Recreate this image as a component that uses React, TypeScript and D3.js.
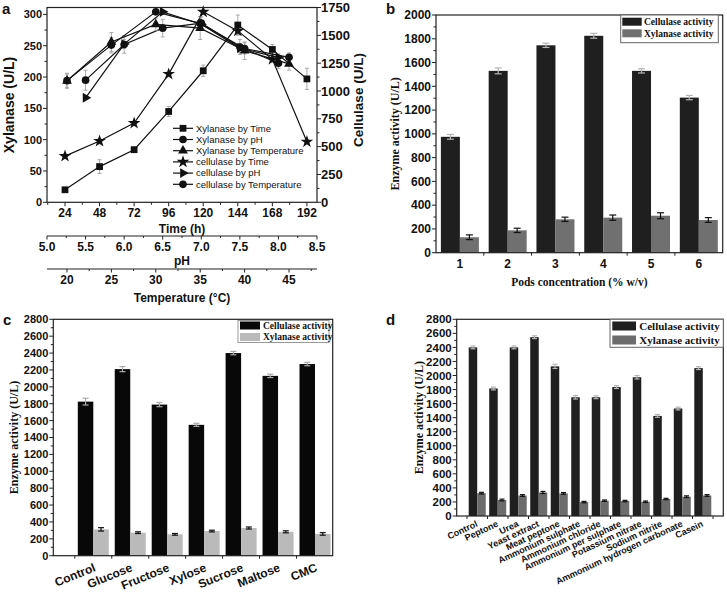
import React from "react";
import * as d3 from "d3";

const SANS = "'Liberation Sans', Arial, Helvetica, sans-serif";
const SERIF = "'Liberation Serif', 'Times New Roman', Times, serif";

// ---------- Panel a data ----------
const timeHours = [24, 48, 72, 96, 120, 144, 168, 192];
const xylanaseByTime = [20, 57, 84, 145, 210, 283, 244, 197];
const xylanaseByTimeErr = [3, 11, 4, 8, 9, 16, 8, 17];
const cellulaseByTime = [415, 550, 711, 1152, 1711, 1540, 1285, 544];
const cellulaseByTimeErr = [20, 25, 18, 25, 20, 35, 30, 20];
const pHValues = [5.5, 6.0, 6.5, 7.0, 7.5, 8.0];
const xylanaseByPH = [195, 252, 278, 286, 248, 222];
const xylanaseByPHErr = [16, 14, 14, 10, 12, 8];
const cellulaseByPH = [939, 1421, 1711, 1600, 1385, 1302];
const cellulaseByPHErr = [0, 40, 0, 30, 40, 30];
const temperatureValues = [20, 25, 30, 35, 40, 45];
const xylanaseByTemp = [194, 256, 284, 278, 242, 221];
const xylanaseByTempErr = [12, 15, 10, 18, 14, 10];
const cellulaseByTemp = [1093, 1412, 1711, 1607, 1382, 1302];
const cellulaseByTempErr = [60, 70, 0, 60, 50, 40];

const timeTicks = [24, 48, 72, 96, 120, 144, 168, 192];
const pHTicks = [5.0, 5.5, 6.0, 6.5, 7.0, 7.5, 8.0, 8.5];
const tempTicks = [20, 25, 30, 35, 40, 45];
const xylTicks = [0, 50, 100, 150, 200, 250, 300];
const celTicks = [0, 250, 500, 750, 1000, 1250, 1500, 1750];

// ---------- Panel b data ----------
const podsConc = ["1", "2", "3", "4", "5", "6"];
const podsCellulase = [975, 1530, 1745, 1825, 1530, 1305];
const podsCellulaseErr = [20, 25, 18, 20, 18, 18];
const podsXylanase = [130, 188, 281, 295, 311, 275];
const podsXylanaseErr = [20, 18, 18, 22, 25, 20];

// ---------- Panel c data ----------
const carbonSources = ["Control", "Glucose", "Fructose", "Xylose", "Sucrose", "Maltose", "CMC"];
const carbonCellulase = [1825, 2210, 1790, 1550, 2400, 2130, 2270];
const carbonCellulaseErr = [40, 30, 25, 18, 20, 20, 20];
const carbonXylanase = [312, 273, 253, 292, 328, 283, 258];
const carbonXylanaseErr = [20, 10, 10, 10, 12, 12, 15];

// ---------- Panel d data ----------
const nitrogenSources = [
  "Control", "Peptone", "Urea", "Yeast extract", "Meat peptone", "Ammonium sulphate",
  "Ammonium chloride", "Ammonium per sulphate", "Potassium nitrate", "Sodium nitrite",
  "Ammonium hydrogen carbonate", "Casein",
];
const nitrogenCellulase = [2400, 1815, 2400, 2545, 2130, 1690, 1690, 1835, 1975, 1425, 1530, 2105];
const nitrogenCellulaseErr = [20, 20, 20, 20, 30, 25, 20, 20, 25, 20, 20, 20];
const nitrogenXylanase = [325, 228, 292, 335, 322, 198, 218, 213, 203, 242, 275, 292];
const nitrogenXylanaseErr = [12, 12, 12, 15, 12, 10, 10, 10, 10, 10, 12, 12];

function ErrBar({ x, y0, y1, cap, color, w = 1 }: any) {
  return (
    <g stroke={color} strokeWidth={w}>
      <line x1={x} x2={x} y1={y0} y2={y1} />
      <line x1={x - cap} x2={x + cap} y1={y0} y2={y0} />
      <line x1={x - cap} x2={x + cap} y1={y1} y2={y1} />
    </g>
  );
}

function BarPanel(p: any) {
  const y = d3.scaleLinear().domain([0, p.yMax]).range([p.B, p.T]);
  const majors = d3.range(0, p.yMax + 1, 200);
  const minors = d3.range(100, p.yMax, 200);
  const step = p.stepW;
  const bounds: number[] = p.cats.map((c: string) => (p.x(c) as number) - step / 2);
  bounds.push((p.x(p.cats[p.cats.length - 1]) as number) + step / 2);
  const lg = p.legend;
  return (
    <g>
      {p.cats.map((c: string, i: number) => {
        const cx = p.x(c) as number;
        const cyc = y(p.cel[i]);
        const cyx = y(p.xyl[i]);
        return (
          <g key={c}>
            <rect x={cx - p.barW} y={cyc} width={p.barW} height={p.B - cyc} fill={p.celColor} />
            <rect x={cx} y={cyx} width={p.barW} height={p.B - cyx} fill={p.xylColor} />
            <ErrBar x={cx - p.barW / 2} y0={y(p.cel[i] + p.celErr[i])} y1={y(p.cel[i] - p.celErr[i])} cap={p.cap} color={p.celErrColor} w={1.2} />
            <ErrBar x={cx + p.barW / 2} y0={y(p.xyl[i] + p.xylErr[i])} y1={y(p.xyl[i] - p.xylErr[i])} cap={p.cap} color={p.xylErrColor} w={1.2} />
          </g>
        );
      })}
      <rect x={p.L} y={p.T} width={p.R - p.L} height={p.B - p.T} fill="none" stroke="#222" strokeWidth={1.2} />
      {majors.map((v: number) => (
        <g key={"m" + v}>
          <line x1={p.L - 4} x2={p.L} y1={y(v)} y2={y(v)} stroke="#222" strokeWidth={1} />
          <text x={p.L - 5} y={y(v)} dy="0.36em" textAnchor="end" fontFamily={SANS} fontWeight="bold" fontSize={p.tickFont} fill="#111">{v}</text>
        </g>
      ))}
      {minors.map((v: number) => (
        <line key={"n" + v} x1={p.L - 2.5} x2={p.L} y1={y(v)} y2={y(v)} stroke="#222" strokeWidth={1} />
      ))}
      {bounds.filter((b) => b > p.L + 1 && b < p.R - 1).map((b, i) => (
        <line key={"b" + i} x1={b} x2={b} y1={p.B} y2={p.B + 3} stroke="#222" strokeWidth={1} />
      ))}
      {p.cats.map((c: string) => {
        const cx = p.x(c) as number;
        if (p.labelRotate === 0) {
          return (
            <text key={"l" + c} x={cx} y={p.B + p.labelDy} textAnchor="middle" fontFamily={SANS} fontWeight="bold" fontSize={p.labelFont} fill="#111">{c}</text>
          );
        }
        return (
          <text key={"l" + c} transform={`translate(${cx + p.labelDx},${p.B + p.labelDy}) rotate(${p.labelRotate})`} textAnchor="end" fontFamily={SANS} fontWeight="bold" fontSize={p.labelFont} fill="#111">{c}</text>
        );
      })}
      {p.xTitle && (
        <text x={(p.L + p.R) / 2} y={p.xTitleY} textAnchor="middle" fontFamily={SERIF} fontWeight="bold" fontSize={p.xTitleFont} fill="#111">{p.xTitle}</text>
      )}
      <text transform={`translate(${p.yTitleX},${(p.T + p.B) / 2}) rotate(-90)`} textAnchor="middle" fontFamily={SERIF} fontWeight="bold" fontSize={p.yTitleFont} fill="#111">Enzyme activity (U/L)</text>
      <rect x={lg.x} y={lg.y} width={lg.w} height={lg.h} fill="#fff" stroke={lg.border} strokeWidth={1} />
      <rect x={lg.swX} y={lg.rowY[0] - lg.swH / 2} width={lg.swW} height={lg.swH} fill={p.celColor} />
      <rect x={lg.swX} y={lg.rowY[1] - lg.swH / 2} width={lg.swW} height={lg.swH} fill={p.xylColor} />
      <text x={lg.textX} y={lg.rowY[0]} dy="0.35em" fontFamily={SERIF} fontWeight="bold" fontSize={lg.fontSize} fill="#111">Cellulase activity</text>
      <text x={lg.textX} y={lg.rowY[1]} dy="0.35em" fontFamily={SERIF} fontWeight="bold" fontSize={lg.fontSize} fill="#111">Xylanase activity</text>
      <text x={p.letterX} y={p.letterY} fontFamily={SANS} fontWeight="bold" fontSize={15} fill="#111">{p.letter}</text>
    </g>
  );
}

export default function App() {
  // ---------- Panel a ----------
  const aL = 47, aR = 317, aT = 7.5, aB = 202.3;
  const xTime = d3.scaleLinear().domain([11.5, 199]).range([aL, aR]);
  const xPH = d3.scaleLinear().domain([5.0, 8.5]).range([aL, aR]);
  const xTemp = d3.scaleLinear().domain([17.75, 48.15]).range([aL, aR]);
  const yLeft = d3.scaleLinear().domain([0, 311]).range([aB, aT]);
  const yRight = d3.scaleLinear().domain([0, 1750]).range([aB, aT]);
  const pHAxisY = 236, tempAxisY = 269;

  const sym = (t: any, size: number) => d3.symbol().type(t).size(size)() as string;
  const shapes: Record<string, { d: string; rot: number }> = {
    square: { d: sym(d3.symbolSquare, 46), rot: 0 },
    circle: { d: sym(d3.symbolCircle, 46), rot: 0 },
    triangle: { d: sym(d3.symbolTriangle, 42), rot: 0 },
    star: { d: sym(d3.symbolStar, 50), rot: 0 },
    rtri: { d: sym(d3.symbolTriangle, 42), rot: 90 },
  };

  const aSeries = [
    { name: "Xylanase by Time", xs: timeHours, ys: xylanaseByTime, errs: xylanaseByTimeErr, xs_: xTime, ys_: yLeft, shape: "square" },
    { name: "Xylanase by pH", xs: pHValues, ys: xylanaseByPH, errs: xylanaseByPHErr, xs_: xPH, ys_: yLeft, shape: "circle" },
    { name: "Xylanase by Temperature", xs: temperatureValues, ys: xylanaseByTemp, errs: xylanaseByTempErr, xs_: xTemp, ys_: yLeft, shape: "triangle" },
    { name: "cellulase by Time", xs: timeHours, ys: cellulaseByTime, errs: cellulaseByTimeErr, xs_: xTime, ys_: yRight, shape: "star" },
    { name: "cellulase by pH", xs: pHValues, ys: cellulaseByPH, errs: cellulaseByPHErr, xs_: xPH, ys_: yRight, shape: "rtri" },
    { name: "cellulase by Temperature", xs: temperatureValues, ys: cellulaseByTemp, errs: cellulaseByTempErr, xs_: xTemp, ys_: yRight, shape: "circle" },
  ];

  // ---------- Panel b/c/d scales ----------
  const xB = d3.scalePoint<string>().domain(podsConc).range([436, 722.7]).padding(0.5);
  const xC = d3.scalePoint<string>().domain(carbonSources).range([93.3, 315]);
  const xD = d3.scalePoint<string>().domain(nitrogenSources).range([456.7, 723.3]).padding(1);

  return (
    <svg width={727} height={593} style={{ position: "absolute", left: 0, top: 0, background: "#fff" }}>
      <rect x={0} y={0} width={727} height={593} fill="#fff" />
      {/* ---------- Panel a ---------- */}
      <g>
        {aSeries.map((s, si) => {
          const line = d3.line<number>().x((_, i) => s.xs_(s.xs[i])).y((v) => s.ys_(v));
          return (
            <g key={si}>
              {s.ys.map((v, i) =>
                s.errs[i] > 0 ? (
                  <ErrBar key={"e" + i} x={s.xs_(s.xs[i])} y0={s.ys_(v + s.errs[i])} y1={s.ys_(v - s.errs[i])} cap={2} color="#a0a0a0" w={0.9} />
                ) : null
              )}
              <path d={line(s.ys) as string} fill="none" stroke="#111" strokeWidth={1.2} />
            </g>
          );
        })}
        {aSeries.map((s, si) => (
          <g key={"m" + si}>
            {s.ys.map((v, i) => (
              <path key={i} d={shapes[s.shape].d} transform={`translate(${s.xs_(s.xs[i])},${s.ys_(v)}) rotate(${shapes[s.shape].rot})`} fill="#111" />
            ))}
          </g>
        ))}
        <rect x={aL} y={aT} width={aR - aL} height={aB - aT} fill="none" stroke="#222" strokeWidth={1.2} />
        {/* left axis */}
        {xylTicks.map((v) => (
          <g key={"yl" + v}>
            <line x1={aL - 4} x2={aL} y1={yLeft(v)} y2={yLeft(v)} stroke="#222" />
            <text x={aL - 5} y={yLeft(v)} dy="0.36em" textAnchor="end" fontFamily={SANS} fontWeight="bold" fontSize={11} fill="#111">{v}</text>
          </g>
        ))}
        {d3.range(25, 300, 50).map((v) => (
          <line key={"ylm" + v} x1={aL - 2.5} x2={aL} y1={yLeft(v)} y2={yLeft(v)} stroke="#222" />
        ))}
        {/* right axis */}
        {celTicks.map((v) => (
          <g key={"yr" + v}>
            <line x1={aR} x2={aR + 4} y1={yRight(v)} y2={yRight(v)} stroke="#222" />
            <text x={aR + 4} y={yRight(v)} dy="0.36em" textAnchor="start" fontFamily={SANS} fontWeight="bold" fontSize={13} fill="#111">{v}</text>
          </g>
        ))}
        {d3.range(125, 1750, 250).map((v) => (
          <line key={"yrm" + v} x1={aR} x2={aR + 2.5} y1={yRight(v)} y2={yRight(v)} stroke="#222" />
        ))}
        {/* time axis */}
        {timeTicks.map((v) => (
          <g key={"t" + v}>
            <line x1={xTime(v)} x2={xTime(v)} y1={aB} y2={aB + 4} stroke="#222" />
            <text x={xTime(v)} y={aB + 15} textAnchor="middle" fontFamily={SANS} fontWeight="bold" fontSize={12} fill="#111">{v}</text>
          </g>
        ))}
        {d3.range(12, 199, 24).map((v) => (
          <line key={"tm" + v} x1={xTime(v)} x2={xTime(v)} y1={aB} y2={aB + 2.5} stroke="#222" />
        ))}
        <text x={(aL + aR) / 2} y={233} textAnchor="middle" fontFamily={SANS} fontWeight="bold" fontSize={12} fill="#111">Time (h)</text>
        {/* pH axis */}
        <line x1={aL} x2={aR} y1={pHAxisY} y2={pHAxisY} stroke="#222" strokeWidth={1.2} />
        {pHTicks.map((v) => (
          <g key={"p" + v}>
            <line x1={xPH(v)} x2={xPH(v)} y1={pHAxisY} y2={pHAxisY + 3.5} stroke="#222" />
            <text x={xPH(v)} y={pHAxisY + 14.5} textAnchor="middle" fontFamily={SANS} fontWeight="bold" fontSize={12} fill="#111">{d3.format(".1f")(v)}</text>
          </g>
        ))}
        {d3.range(5.25, 8.5, 0.5).map((v) => (
          <line key={"pm" + v} x1={xPH(v)} x2={xPH(v)} y1={pHAxisY} y2={pHAxisY + 2} stroke="#222" />
        ))}
        <text x={(aL + aR) / 2} y={265} textAnchor="middle" fontFamily={SANS} fontWeight="bold" fontSize={12} fill="#111">pH</text>
        {/* temperature axis */}
        <line x1={aL} x2={aR} y1={tempAxisY} y2={tempAxisY} stroke="#222" strokeWidth={1.2} />
        {tempTicks.map((v) => (
          <g key={"te" + v}>
            <line x1={xTemp(v)} x2={xTemp(v)} y1={tempAxisY} y2={tempAxisY + 3.5} stroke="#222" />
            <text x={xTemp(v)} y={tempAxisY + 14.5} textAnchor="middle" fontFamily={SANS} fontWeight="bold" fontSize={12} fill="#111">{v}</text>
          </g>
        ))}
        {d3.range(17.5, 48.1, 5).filter((v) => v > 17.75).map((v) => (
          <line key={"tem" + v} x1={xTemp(v)} x2={xTemp(v)} y1={tempAxisY} y2={tempAxisY + 2} stroke="#222" />
        ))}
        <text x={(aL + aR) / 2} y={301.5} textAnchor="middle" fontFamily={SANS} fontWeight="bold" fontSize={12} fill="#111">Temperature (°C)</text>
        {/* titles */}
        <text transform={`translate(14,105) rotate(-90)`} textAnchor="middle" fontFamily={SANS} fontWeight="bold" fontSize={14} fill="#111">Xylanase (U/L)</text>
        <text transform={`translate(363,100) rotate(-90)`} textAnchor="middle" fontFamily={SANS} fontWeight="bold" fontSize={13.5} fill="#111">Cellulase (U/L)</text>
        <text x={2} y={14} fontFamily={SANS} fontWeight="bold" fontSize={15} fill="#111">a</text>
        {/* legend */}
        {aSeries.map((s, i) => {
          const ly = 128.3 + i * 11.2;
          return (
            <g key={"lg" + i}>
              <line x1={173} x2={193} y1={ly} y2={ly} stroke="#111" strokeWidth={1.2} />
              <path d={shapes[s.shape].d} transform={`translate(183,${ly}) rotate(${shapes[s.shape].rot})`} fill="#111" />
              <text x={196} y={ly} dy="0.35em" fontFamily={SANS} fontSize={9.5} fill="#111">{s.name}</text>
            </g>
          );
        })}
      </g>

      {/* ---------- Panel b ---------- */}
      <BarPanel
        L={436} R={722.7} T={15} B={252.7} yMax={2000}
        cats={podsConc} x={xB} stepW={xB.step()} barW={19} cap={3.5}
        cel={podsCellulase} xyl={podsXylanase} celErr={podsCellulaseErr} xylErr={podsXylanaseErr}
        celColor="#1f1f1f" xylColor="#707070" celErrColor="#b5b5b5" xylErrColor="#111"
        tickFont={12} labelRotate={0} labelFont={12} labelDy={15} labelDx={0}
        xTitle="Pods concentration (% w/v)" xTitleY={286} xTitleFont={11.5}
        yTitleX={399} yTitleFont={12}
        legend={{ x: 620.7, y: 15, w: 97.6, h: 27.7, swX: 622.3, swW: 19.4, swH: 8, rowY: [21.7, 33.3], textX: 644, fontSize: 9.5, border: "#666" }}
        letter="b" letterX={386} letterY={14}
      />

      {/* ---------- Panel c ---------- */}
      <BarPanel
        L={53.3} R={332.7} T={319.3} B={555.7} yMax={2800}
        cats={carbonSources} x={xC} stepW={xC.step()} barW={15.5} cap={3}
        cel={carbonCellulase} xyl={carbonXylanase} celErr={carbonCellulaseErr} xylErr={carbonXylanaseErr}
        celColor="#080808" xylColor="#bababa" celErrColor="#aaaaaa" xylErrColor="#111"
        tickFont={11} labelRotate={-22} labelFont={12} labelDy={15} labelDx={3}
        yTitleX={18} yTitleFont={12}
        legend={{ x: 238, y: 320.5, w: 91, h: 22, swX: 240, swW: 20, swH: 8, rowY: [325.5, 337], textX: 263, fontSize: 9.5, border: "#999" }}
        letter="c" letterX={3} letterY={325}
      />

      {/* ---------- Panel d ---------- */}
      <BarPanel
        L={456.7} R={723.3} T={319.3} B={516} yMax={2800}
        cats={nitrogenSources} x={xD} stepW={xD.step()} barW={8.5} cap={2.5}
        cel={nitrogenCellulase} xyl={nitrogenXylanase} celErr={nitrogenCellulaseErr} xylErr={nitrogenXylanaseErr}
        celColor="#1f1f1f" xylColor="#6c6c6c" celErrColor="#b5b5b5" xylErrColor="#111"
        tickFont={11.5} labelRotate={-25} labelFont={9} labelDy={10} labelDx={1}
        yTitleX={423} yTitleFont={12}
        legend={{ x: 610, y: 319.3, w: 113.3, h: 28, swX: 612.3, swW: 23.7, swH: 9, rowY: [326, 340], textX: 639.3, fontSize: 11, border: "#666" }}
        letter="d" letterX={386} letterY={325}
      />
    </svg>
  );
}
